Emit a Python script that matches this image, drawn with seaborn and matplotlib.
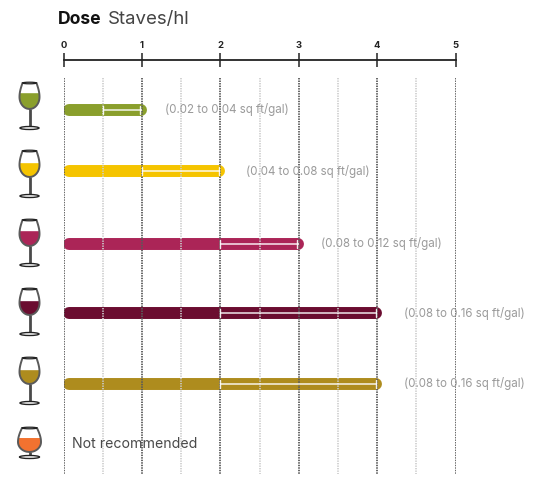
import numpy as np
import pandas as pd
import matplotlib
matplotlib.use("Agg")
import matplotlib.pyplot as plt
from matplotlib.patches import Polygon, Ellipse
import seaborn as sns

# ---- data ----
row_pos = [110, 171, 244, 313, 384]
dose_low = [0.5, 1, 2, 2, 2]
dose_high = [1, 2, 3, 4, 4]
colors = ["#8a9f2c", "#f5c400", "#ab2557", "#6b0d30", "#ae8c1e"]
notes = ["(0.02 to 0.04 sq ft/gal)", "(0.04 to 0.08 sq ft/gal)", "(0.08 to 0.12 sq ft/gal)",
         "(0.08 to 0.16 sq ft/gal)", "(0.08 to 0.16 sq ft/gal)"]
note_px_offset = [23, 26, 22, 27, 27]
major_ticks = [0, 1, 2, 3, 4, 5]
minor_ticks = [0.5, 1.5, 2.5, 3.5, 4.5]
glass_tops = [83, 151, 220, 289, 358]
wine_depth = [10, 12, 11, 12, 12]

W, H = 541, 479
sns.set_theme(style="white")
plt.rcParams["font.family"] = ["Inter", "DejaVu Sans"]
fig = plt.figure(figsize=(W / 100, H / 100), dpi=100)
x0, x1, ytop, ybot = 63.5, 455.5, 60, 474
ax = fig.add_axes([x0 / W, 1 - ybot / H, (x1 - x0) / W, (ybot - ytop) / H])
ax.set_xlim(0, 5)
ax.set_ylim(ybot, ytop)
ax.patch.set_alpha(0)
unit = (x1 - x0) / 5
px = 1 / unit

# bars with rounded ends
df = pd.DataFrame({"row": row_pos, "low": dose_low, "high": dose_high})
cap = 5.5 * px
for i, r in df.iterrows():
    long = pd.DataFrame({"x": [cap, r["high"] - 1 * px], "y": [r["row"], r["row"]]})
    sns.lineplot(data=long, x="x", y="y", ax=ax, color=colors[i], linewidth=8.6, sort=False,
                 estimator=None, solid_capstyle="round", zorder=2, legend=False)
    ax.plot([r["low"], r["high"]], [r["row"]] * 2, color="white", lw=1.1, alpha=.9, zorder=4, solid_capstyle="butt")
    for e in (r["low"], r["high"]):
        ax.plot([e - 1.5 * px * (e == r["high"]), e - 1.5 * px * (e == r["high"])],
                [r["row"] - 4, r["row"] + 4], color="white", lw=1.0, alpha=.9, zorder=4)
    ax.text(r["high"] + note_px_offset[i] * px, r["row"], notes[i], color="#9a9a9a", fontsize=8.3,
            va="center", ha="left", zorder=5, clip_on=False)

# grid lines
ax.vlines(major_ticks, 78, ybot, color="#5a5a5a", lw=1.3, linestyles=(0, (0.8, 0.6)), zorder=3)
ax.vlines(minor_ticks, 78, ybot, color="#cccccc", lw=1.2, linestyles=(0, (0.8, 0.7)), zorder=3)

# axis on top
sns.despine(ax=ax, left=True, bottom=True, top=False, right=True)
ax.spines["top"].set_color("#222222")
ax.spines["top"].set_linewidth(1.3)
ax.xaxis.tick_top()
ax.set_xticks(major_ticks)
ax.set_xticklabels([str(t) for t in major_ticks], fontsize=6.8, fontweight="bold", color="#222222")
ax.tick_params(axis="x", direction="inout", length=10.5, width=1.1, color="#222222", pad=2.2, top=True, bottom=False)
ax.set_yticks([])
ax.set_xlabel("")
ax.set_ylabel("")
ax.text(8.5 * px, 444, "Not recommended", fontsize=10.2, color="#4a4a4a", va="center", ha="left", zorder=5)

# title
fig.text(58 / W, 1 - 19 / H, "Dose", fontsize=12.6, fontweight="bold", color="#111111", va="center", ha="left")
fig.text(108 / W, 1 - 19 / H, "Staves/hl", fontsize=13.4, color="#444444", va="center", ha="left")

# glass icons in pixel space
ic = fig.add_axes([0, 0, 1, 1], zorder=5)
ic.set_xlim(0, W)
ic.set_ylim(H, 0)
ic.axis("off")
ic.patch.set_alpha(0)


def bowl_edge(t, half_top, half_max, depth, t_max):
    """half-width of the bowl at depth t"""
    s = np.clip(t / depth, 0, 1)
    tm = t_max / depth
    return np.where(
        s < tm,
        half_top + (half_max - half_top) * np.sin(s / tm * np.pi / 2),
        half_max * np.sqrt(np.clip(1 - ((s - tm) / (1 - tm)) ** 2, 0, 1)),
    )


def glass(cx, top, fill, level, half_top, half_max, depth, t_max, stem, foot):
    t = np.linspace(0, depth, 80)
    w = bowl_edge(t, half_top, half_max, depth, t_max)
    outline = np.r_[np.c_[cx - w, top + t], np.c_[cx + w, top + t][::-1]]
    ic.add_patch(Polygon(outline, closed=True, facecolor="white", edgecolor="none", zorder=1))
    m = t >= level
    wine = np.r_[np.c_[cx - w[m], top + t[m]], np.c_[cx + w[m], top + t[m]][::-1]]
    ic.add_patch(Polygon(wine, closed=True, facecolor=fill, edgecolor="none", zorder=2))
    ic.add_patch(Polygon(outline, closed=True, facecolor="none", edgecolor="#5a5a5a", lw=1.4, zorder=3))
    ic.add_patch(Ellipse((cx, top), 2 * half_top, 1.6, facecolor="white", edgecolor="#222222", lw=0.9, zorder=4))
    ic.plot([cx, cx], [top + depth, top + depth + stem], color="#4a4a4a", lw=2.0, zorder=3, solid_capstyle="butt")
    ic.add_patch(Ellipse((cx, top + depth + stem + 1), foot, 3.0, facecolor="white", edgecolor="#222222", lw=1.0, zorder=3))


for top, c, d in zip(glass_tops, colors, wine_depth):
    glass(29.5, top, c, d, 7, 10, 26, 14, 18, 19)
glass(29.5, 428, "#f27230", 10, 7.5, 11.5, 24, 14, 4, 20)

fig.savefig("out.png", dpi=100)
